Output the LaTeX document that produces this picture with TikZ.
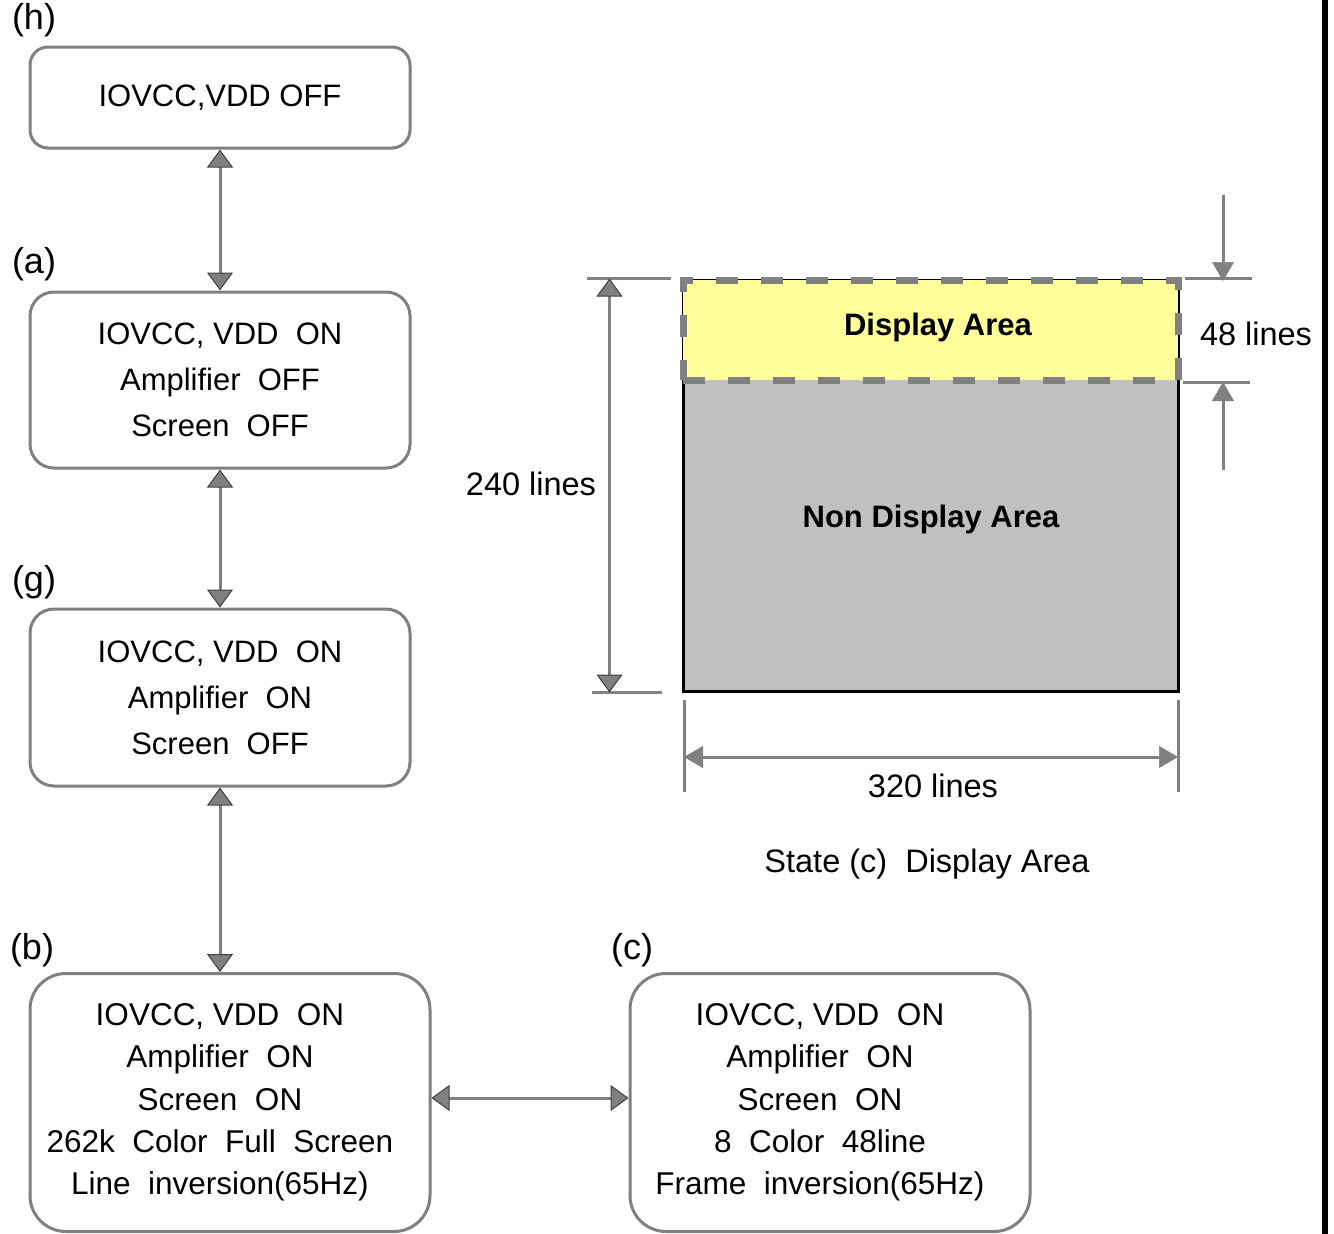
\documentclass[tikz,border=0pt]{standalone}
\usepackage{fontspec}
\setmainfont{Liberation Sans}
\usepackage{tikz}
\usetikzlibrary{positioning,arrows.meta}

\definecolor{linegray}{HTML}{808080}
\definecolor{tipgray}{HTML}{404040}
\definecolor{dispyellow}{HTML}{FFFF99}
\definecolor{nondispgray}{HTML}{C0C0C0}

% pad the right end of a line so the text sits left of the box centre
\newcommand{\padr}{\kern20pt}

\begin{document}
\begin{tikzpicture}[
    x=1pt, y=-1pt,
    state/.style={
        rectangle,
        rounded corners=#1,
        draw=linegray,
        line width=3pt,
        align=center,
        inner sep=0pt,
        minimum width=380pt,
        font=\fontsize{31}{46}\selectfont
    },
    state/.default=24pt,
    bigstate/.style={
        state=36pt,
        minimum width=400pt,
        minimum height=258pt,
        font=\fontsize{31.5}{42.3}\selectfont
    },
    tag/.style={
        inner sep=0pt,
        font=\fontsize{36}{40}\selectfont
    },
    dimtext/.style={
        inner sep=0pt,
        font=\fontsize{32.5}{38}\selectfont
    },
    dbl/.style={
        {Triangle[length=18pt,width=26pt,line width=1pt,color=tipgray,fill=linegray]}-{Triangle[length=18pt,width=26pt,line width=1pt,color=tipgray,fill=linegray]},
        draw=linegray,
        line width=3pt
    },
    dim/.style={
        draw=linegray,
        line width=3pt
    },
    dimarrow/.style={
        -{Triangle[length=19pt,width=22pt,line width=0.5pt,color=linegray,fill=linegray]},
        draw=linegray,
        line width=3pt
    },
    dimboth/.style={
        {Triangle[length=19pt,width=22pt,line width=0.5pt,color=linegray,fill=linegray]}-{Triangle[length=19pt,width=22pt,line width=0.5pt,color=linegray,fill=linegray]},
        draw=linegray,
        line width=3pt
    }
]

\useasboundingbox (0,0) rectangle (1334,1234);

% state boxes
\node[state=18pt, minimum height=101pt] (h) at (220,97.5)
{IOVCC,VDD OFF};

\node[state, minimum height=176pt] (a) at (220,380)
{IOVCC, VDD~~ON\\Amplifier~~OFF\\Screen~~OFF};

\node[state, minimum height=177pt] (g) at (220,697.5)
{IOVCC, VDD~~ON\\Amplifier~~ON\\Screen~~OFF};

\node[bigstate] (b) at (230,1102.5)
{IOVCC, VDD~~ON\padr\\Amplifier~~ON\padr\\Screen~~ON\padr\\
262k~~Color~~Full~~Screen\padr\\Line~~inversion(65Hz)\padr};

\node[bigstate] (c) at (830,1102.5)
{IOVCC, VDD~~ON\padr\\Amplifier~~ON\padr\\Screen~~ON\padr\\
8~~Color~~48line\padr\\Frame~~inversion(65Hz)\padr};

% state tags
\node[tag] (th) at (34,20) {(h)};
\node[tag] (ta) at (34,264) {(a)};
\node[tag] (tg) at (34,582) {(g)};
\node[tag] (tb) at (32,950) {(b)};
\node[tag] (tc) at (632,950) {(c)};

% transitions
\draw[dbl] (h) -- (a);
\draw[dbl] (a) -- (g);
\draw[dbl] (g.south) -- (g.south |- b.north);
\draw[dbl] ([yshift=4.5pt]b.east) -- ([yshift=4.5pt]c.west);

% display area
\node[rectangle, draw=black, line width=3pt, fill=nondispgray, inner sep=0pt,
      minimum width=495pt, minimum height=411pt] (scr) at (930.5,485.5) {};
\node[rectangle, draw=linegray, line width=7pt, dash pattern=on 22pt off 23pt,
      fill=dispyellow, inner sep=0pt,
      minimum width=495pt, minimum height=100pt] (disp) at (930.5,330) {};
\node[font=\fontsize{31}{36}\selectfont\bfseries, inner sep=0pt] (dtxt) at (938,327) {Display Area};
\node[font=\fontsize{31}{36}\selectfont\bfseries, inner sep=0pt] (ndtxt) at (931,519) {Non Display Area};

% 240 lines
\draw[dim] ([xshift=-95pt]scr.north west) -- ([xshift=-11pt]scr.north west);
\draw[dim] ([xshift=-90pt]scr.south west) -- ([xshift=-20pt]scr.south west);
\draw[dbl] ([xshift=-72pt]scr.north west) -- ([xshift=-72pt]scr.south west);
\node[dimtext] (l240) at (531,484) {240 lines};

% 48 lines
\coordinate (top48) at (1223,195);
\coordinate (bot48) at (1223,470);
\draw[dim] ([xshift=5pt]scr.north east) -- ([xshift=72pt]scr.north east);
\draw[dim] (1183,382) -- (1250,382);
\draw[dimarrow] (top48) -- (1223,281);
\draw[dimarrow] (bot48) -- (1223,382);
\node[dimtext] (l48) at (1256,334) {48 lines};

% 320 lines
\draw[dim] (684,700) -- (684,792);
\draw[dim] (1178,700) -- (1178,792);
\draw[dimboth] (684,757) -- (1178,757);
\node[dimtext] (l320) at (933,786) {320 lines};

\node[dimtext] (cap) at (927,864) {State (c)~~Display Area};

% right border
\fill[black] (1322,0) rectangle (1328,1234);

\end{tikzpicture}
\end{document}
